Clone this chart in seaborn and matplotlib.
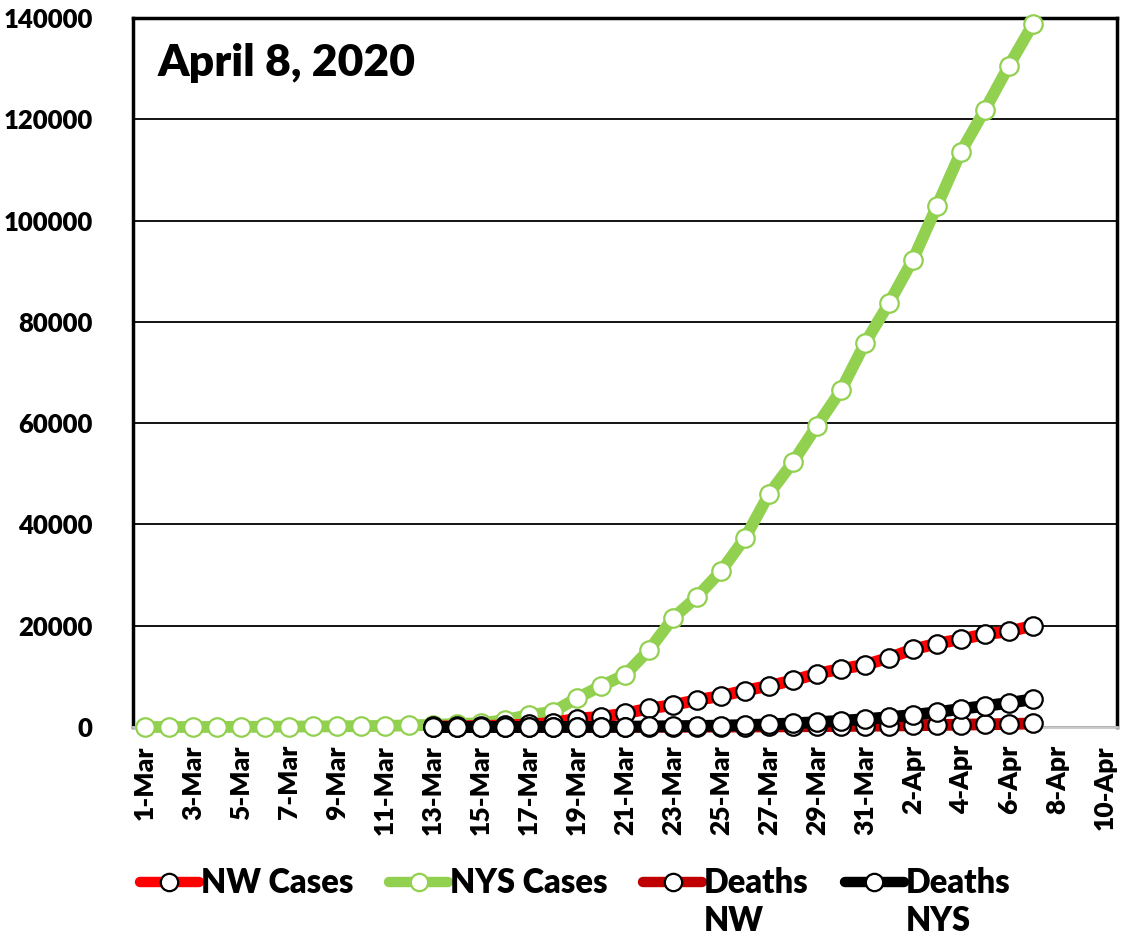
import numpy as np
import pandas as pd
import matplotlib
matplotlib.use("Agg")
import matplotlib.pyplot as plt
from matplotlib.lines import Line2D
import seaborn as sns

# ---------------- data ----------------
dates = ([f"{d}-Mar" for d in range(1, 32)] + [f"{d}-Apr" for d in range(1, 11)])

nys_cases = [1, 1, 2, 11, 22, 44, 89, 106, 142, 173, 217, 326,
             421, 610, 732, 1380, 2370, 3000, 5700, 8100, 10300, 15200,
             21500, 25700, 30800, 37300, 46000, 52300, 59500, 66500, 75800,
             83700, 92300, 102900, 113600, 121900, 130600, 138800]

nw_cases = [None] * 12 + [100, 150, 200, 300, 500, 800, 1670, 2000, 2670,
                          3670, 4330, 5330, 6130, 7200, 8130, 9200, 10530,
                          11470, 12270, 13670, 15330, 16470, 17330, 18330,
                          18870, 20000]

deaths_nw = [None] * 12 + [0, 0, 0, 1, 2, 3, 5, 10, 15, 25, 35, 50, 70, 90,
                           110, 140, 170, 200, 240, 290, 340, 400, 460, 530,
                           600, 700]

deaths_nys = [None] * 12 + [0, 2, 3, 7, 12, 12, 29, 35, 60, 114, 157, 210,
                            285, 385, 519, 728, 965, 1218, 1550, 1941, 2373,
                            2935, 3565, 4159, 4758, 5489]

series_names = ["NW Cases", "NYS Cases", "Deaths NW", "Deaths NYS"]
legend_first = ["NW Cases", "NYS Cases", "Deaths", "Deaths"]
legend_second = ["", "", "NW", "NYS"]
title_text = "April 8, 2020"
y_ticks = [0, 20000, 40000, 60000, 80000, 100000, 120000, 140000]


def pad(vals):
    return list(vals) + [None] * (len(dates) - len(vals))


df = pd.DataFrame({
    "day": np.arange(len(dates)),
    "date": dates,
    "NW Cases": pad(nw_cases),
    "NYS Cases": pad(nys_cases),
    "Deaths NW": pad(deaths_nw),
    "Deaths NYS": pad(deaths_nys),
}).astype({"NW Cases": float, "NYS Cases": float,
           "Deaths NW": float, "Deaths NYS": float})

# ---------------- style ----------------
sns.set_theme(style="white")
plt.rcParams["font.family"] = ["Lato", "DejaVu Sans"]
plt.rcParams["text.color"] = "black"
plt.rcParams["xtick.color"] = "black"
plt.rcParams["ytick.color"] = "black"
plt.rcParams["xtick.labelcolor"] = "black"
plt.rcParams["ytick.labelcolor"] = "black"
W = "heavy"

fig = plt.figure(figsize=(11.22, 9.40), dpi=100)
ax = fig.add_axes([133 / 1122, 1 - 727 / 940, (1117 - 133) / 1122, (727 - 18) / 940])

styles = {
    "NYS Cases": dict(color="#92D050", lw=8.5, mec="#92D050", z=3),
    "NW Cases": dict(color="#FF0000", lw=8.5, mec="black", z=4),
    "Deaths NW": dict(color="#C00000", lw=8.5, mec="black", z=5),
    "Deaths NYS": dict(color="black", lw=8.5, mec="black", z=6),
}

for name in ["NYS Cases", "NW Cases", "Deaths NW", "Deaths NYS"]:
    st = styles[name]
    sub = df.dropna(subset=[name])
    sns.lineplot(data=sub, x="day", y=name, ax=ax, color=st["color"],
                 linewidth=st["lw"], marker="o", markersize=13.3,
                 markerfacecolor="white", markeredgecolor=st["mec"],
                 markeredgewidth=1.6, zorder=st["z"], clip_on=False,
                 label=name)

ax.set_xlim(-0.5, len(dates) - 0.5)
ax.set_ylim(0, 140000)
ax.set_yticks(y_ticks)
ax.set_yticklabels([str(v) for v in y_ticks], fontsize=18.5, fontweight=W)
ax.yaxis.grid(True, color="black", linewidth=1.3)
ax.set_axisbelow(True)

label_pos = np.arange(0, len(dates), 2)
ax.set_xticks(label_pos)
ax.set_xticklabels([dates[i] for i in label_pos], rotation=90,
                   fontsize=19, fontweight=W)
ax.tick_params(axis="x", which="major", length=0, pad=13)
ax.set_xticks(np.arange(-0.5, len(dates), 2), minor=True)
ax.tick_params(axis="x", which="minor", length=9, width=1.5,
               color="#d0d0d0", direction="out")
ax.tick_params(axis="y", length=0, pad=29)
ax.set_xlabel("")
ax.set_ylabel("")

for side in ["left", "top", "right"]:
    ax.spines[side].set_color("black")
    ax.spines[side].set_linewidth(2.5)
ax.spines["bottom"].set_color("#c8c8c8")
ax.spines["bottom"].set_linewidth(2)

ax.text(25 / 984, 1 - 45 / 709, title_text, transform=ax.transAxes,
        fontsize=32, fontweight=W, ha="left", va="center")

# ---------------- legend ----------------
if ax.get_legend() is not None:
    ax.get_legend().remove()
leg_handles = [Line2D([], [], color=styles[n]["color"], lw=7.5,
                      solid_capstyle="round", marker="o", markersize=12.5,
                      markerfacecolor="white", markeredgecolor=styles[n]["mec"],
                      markeredgewidth=1.6)
               for n in series_names]
leg = fig.legend(leg_handles, legend_first,
                 loc="center left", bbox_to_anchor=(127 / 1122, 1 - 883 / 940),
                 ncol=4, frameon=False, handlelength=1.8, handletextpad=0.06,
                 columnspacing=1.1, borderaxespad=0,
                 prop={"size": 23.5, "weight": W})

fig.canvas.draw()
renderer = fig.canvas.get_renderer()
texts = leg.get_texts()
for idx, sub in enumerate(legend_second):
    if not sub:
        continue
    bb = texts[idx].get_window_extent(renderer)
    fig.text(bb.x0 / fig.bbox.width, 1 - 921 / 940, sub,
             ha="left", va="center", fontsize=23.5, fontweight=W)

fig.savefig("out.png", dpi=100)
